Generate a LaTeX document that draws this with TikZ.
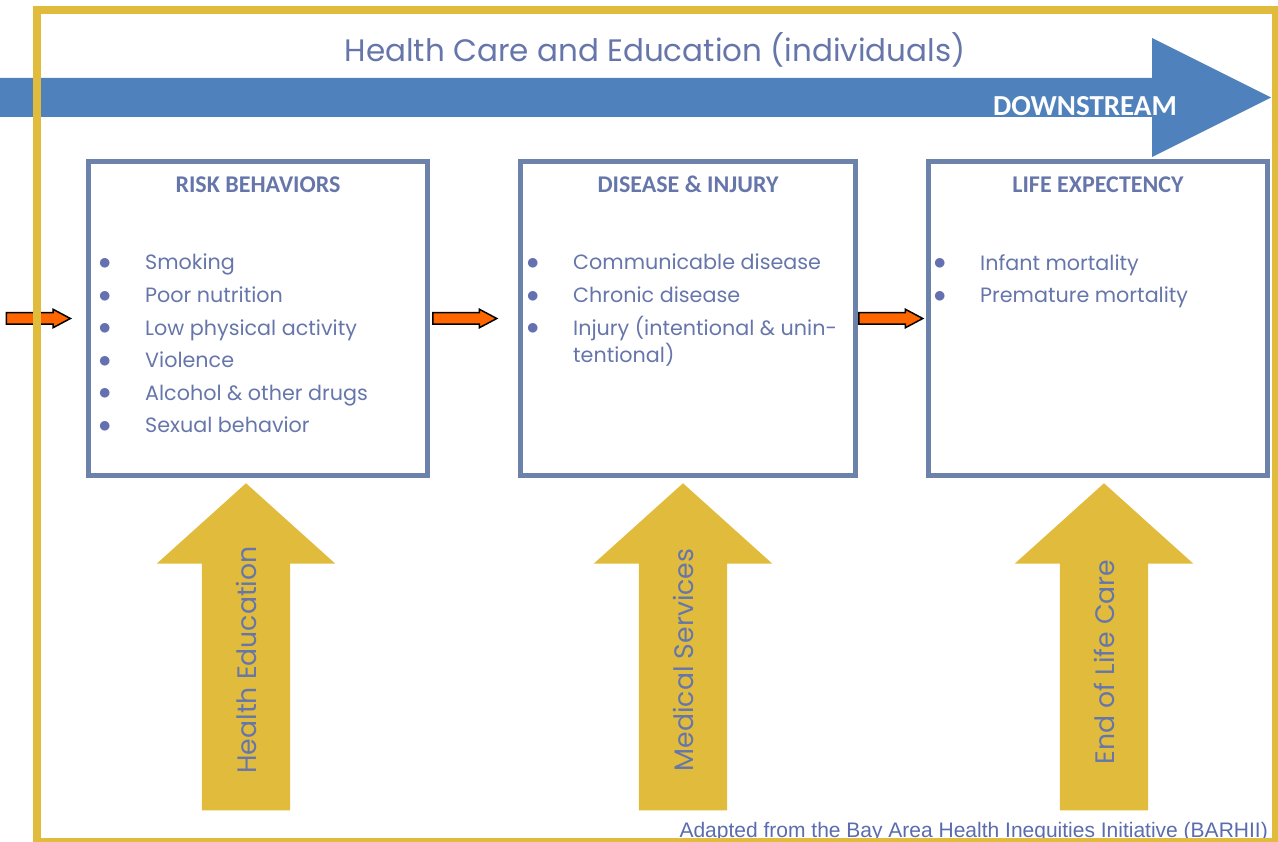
\documentclass[tikz,border=0pt]{standalone}
\usepackage{fontspec}
\usepackage{xcolor}
\usepackage{graphicx}
\usetikzlibrary{positioning,shapes.arrows}
\setmainfont{Poppins}
\newfontfamily\headfont{Carlito}
\newfontfamily\notefont{Liberation Sans}
\definecolor{frameGold}{HTML}{E1BB3C}
\definecolor{streamBlue}{HTML}{4F81BD}
\definecolor{boxSlate}{HTML}{6C82AA}
\definecolor{textSlate}{HTML}{6676AA}
\definecolor{dotBlue}{HTML}{6470B0}
\definecolor{noteBlue}{HTML}{5A6BAE}
\definecolor{flowOrange}{HTML}{FF6600}
\newcommand{\bitem}[1]{\makebox[46.5pt][l]{\textcolor{dotBlue}{\raisebox{0.5pt}{\scalebox{1.2}{$\bullet$}}}}#1}

\begin{document}
\begin{tikzpicture}[x=1pt, y=-1pt,
  stagebox/.style={draw=boxSlate, line width=5pt, minimum width=339pt, minimum height=314pt, inner sep=0pt},
  stagetitle/.style={font=\headfont\bfseries\fontsize{24}{24}\selectfont, text=textSlate, anchor=base},
  stagelist/.style={font=\fontsize{20.7}{32.6}\selectfont, text=textSlate, align=left, inner sep=0pt, anchor=north west},
  flowarrow/.style={single arrow, draw=black, fill=flowOrange, line width=1.5pt, minimum height=64pt, inner xsep=0pt, inner ysep=5pt, single arrow head extend=3.5pt, single arrow tip angle=56},
  carearrow/.style={single arrow, fill=frameGold, rotate=90, anchor=tip, minimum height=327pt, inner xsep=0pt, inner ysep=44pt, single arrow head extend=45pt, single arrow tip angle=96},
  caretext/.style={rotate=90, font=\fontsize{26.7}{26.7}\selectfont, text=textSlate}]
\useasboundingbox (0,0) rectangle (1278,842);

% downstream band
\fill[streamBlue] (-5,78) -- (1152,78) -- (1152,38) -- (1271,97.5) -- (1152,157) -- (1152,117) -- (-5,117) -- cycle;
\node[font=\fontsize{31}{31}\selectfont, text=textSlate] (heading) at (655,50) {Health Care and Education (individuals)};
\node[font=\headfont\bfseries\fontsize{29}{29}\selectfont, text=white] (downstream) at (1085,106) {DOWNSTREAM};

% the three stages
\node[stagebox] (risk) at (258,318.5) {};
\node[stagebox, minimum width=335pt, right=88pt of risk] (disease) {};
\node[stagebox, right=68pt of disease] (life) {};

\node[stagetitle] (riskTitle) at ([yshift=-34pt]risk.north) {RISK BEHAVIORS};
\node[stagetitle] (diseaseTitle) at ([yshift=-34pt]disease.north) {DISEASE \& INJURY};
\node[stagetitle] (lifeTitle) at ([yshift=-34pt]life.north) {LIFE EXPECTENCY};

\node[stagelist] (riskList) at ([xshift=12.5pt,yshift=-95pt]risk.north west) {\bitem{Smoking}\\ \bitem{Poor nutrition}\\ \bitem{Low physical activity}\\ \bitem{Violence}\\ \bitem{Alcohol \& other drugs}\\ \bitem{Sexual behavior}};
\node[stagelist] (diseaseList) at ([xshift=8.5pt,yshift=-95pt]disease.north west) {\bitem{Communicable disease}\\ \bitem{Chronic disease}\\ \bitem{Injury (intentional \& unin-}\\[-5.6pt] \hspace*{46.5pt}tentional)};
\node[stagelist] (lifeList) at ([xshift=7.5pt,yshift=-95pt]life.north west) {\bitem{Infant mortality}\\ \bitem{Premature mortality}};

% flow between stages
\node[flowarrow, left=14pt of risk] (inflow) {};
\node[flowarrow, right=2pt of risk] (toDisease) {};
\node[flowarrow, right=0pt of disease] (toLife) {};

% interventions pushing up
\node[carearrow] (eduArrow) at ([xshift=-12pt,yshift=-5pt]risk.south) {};
\node[carearrow] (medArrow) at ([xshift=-5pt,yshift=-5pt]disease.south) {};
\node[carearrow] (endArrow) at ([xshift=6pt,yshift=-5pt]life.south) {};
\node[caretext] (eduText) at ([yshift=-177pt]eduArrow.tip) {Health Education};
\node[caretext] (medText) at ([yshift=-177pt]medArrow.tip) {Medical Services};
\node[caretext] (endText) at ([yshift=-179pt]endArrow.tip) {End of Life Care};

\node[font=\notefont\fontsize{21}{21}\selectfont, text=noteBlue, anchor=base west] (credit) at (676,837) {Adapted from the Bay Area Health Inequities Initiative (BARHII)};

% outer frame
\draw[frameGold, line width=8pt] (37,10) rectangle (1276,842);
\end{tikzpicture}
\end{document}
